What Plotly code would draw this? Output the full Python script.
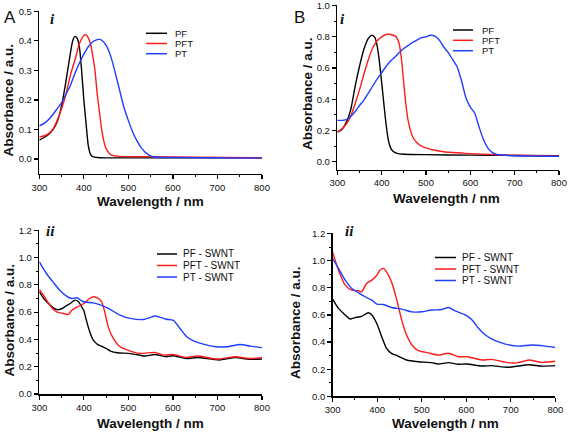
import plotly.graph_objects as go

W, H = 569, 433

# ---------------- DATA ----------------
a1_pf_wl = [300, 310, 320, 330, 340, 350, 360, 370, 375, 380, 385, 390, 395, 400, 405, 410, 415, 420, 430, 450, 500, 600, 700, 800]
a1_pf_ab = [0.064, 0.072, 0.082, 0.098, 0.125, 0.18, 0.265, 0.36, 0.40, 0.415, 0.408, 0.38, 0.30, 0.20, 0.12, 0.045, 0.016, 0.008, 0.005, 0.004, 0.004, 0.004, 0.004, 0.004]
a1_pft_wl = [300, 310, 320, 330, 340, 350, 360, 370, 380, 390, 400, 405, 410, 415, 420, 425, 430, 435, 440, 445, 450, 460, 480, 550, 650, 800]
a1_pft_ab = [0.075, 0.078, 0.085, 0.10, 0.13, 0.17, 0.22, 0.285, 0.335, 0.39, 0.418, 0.421, 0.41, 0.39, 0.35, 0.30, 0.22, 0.16, 0.10, 0.06, 0.035, 0.015, 0.009, 0.008, 0.006, 0.004]
a1_pt_wl = [300, 310, 320, 330, 340, 350, 360, 370, 380, 390, 400, 410, 420, 430, 435, 440, 450, 460, 470, 480, 490, 500, 510, 520, 530, 540, 550, 560, 600, 800]
a1_pt_ab = [0.112, 0.12, 0.132, 0.15, 0.17, 0.19, 0.22, 0.25, 0.29, 0.325, 0.355, 0.38, 0.397, 0.404, 0.405, 0.402, 0.385, 0.35, 0.295, 0.235, 0.175, 0.13, 0.09, 0.06, 0.036, 0.02, 0.011, 0.007, 0.005, 0.003]

b1_pf_wl = [300, 310, 320, 330, 340, 350, 360, 370, 378, 385, 390, 395, 400, 405, 410, 415, 420, 425, 435, 450, 500, 600, 700, 800]
b1_pf_ab = [0.19, 0.205, 0.25, 0.33, 0.48, 0.61, 0.72, 0.79, 0.81, 0.795, 0.74, 0.64, 0.51, 0.37, 0.24, 0.14, 0.09, 0.068, 0.053, 0.048, 0.045, 0.042, 0.04, 0.038]
b1_pft_wl = [300, 310, 320, 330, 340, 350, 360, 370, 380, 390, 400, 410, 415, 420, 430, 435, 440, 445, 450, 455, 460, 470, 480, 490, 500, 520, 540, 580, 600, 650, 700, 750, 800]
b1_pft_ab = [0.19, 0.21, 0.24, 0.29, 0.37, 0.46, 0.56, 0.655, 0.73, 0.775, 0.80, 0.815, 0.817, 0.815, 0.806, 0.79, 0.75, 0.65, 0.50, 0.36, 0.26, 0.16, 0.12, 0.10, 0.088, 0.073, 0.064, 0.056, 0.052, 0.046, 0.041, 0.038, 0.035]
b1_pt_wl = [300, 310, 320, 330, 340, 350, 360, 370, 380, 390, 400, 410, 420, 430, 440, 450, 460, 470, 480, 490, 500, 510, 520, 530, 540, 550, 560, 570, 580, 590, 600, 610, 620, 630, 640, 650, 660, 680, 700, 800]
b1_pt_ab = [0.265, 0.265, 0.27, 0.29, 0.32, 0.36, 0.395, 0.44, 0.485, 0.53, 0.57, 0.61, 0.645, 0.67, 0.70, 0.725, 0.745, 0.765, 0.78, 0.795, 0.80, 0.81, 0.805, 0.78, 0.735, 0.70, 0.655, 0.61, 0.52, 0.41, 0.35, 0.31, 0.22, 0.14, 0.085, 0.058, 0.046, 0.041, 0.038, 0.035]

a2_pf_wl = [300, 310, 320, 330, 340, 350, 360, 370, 380, 388, 395, 400, 405, 410, 415, 420, 430, 440, 450, 460, 475, 500, 525, 537, 560, 585, 600, 630, 655, 690, 705, 740, 770, 800]
a2_pf_ab = [0.75, 0.70, 0.665, 0.635, 0.618, 0.625, 0.645, 0.665, 0.688, 0.676, 0.64, 0.61, 0.55, 0.49, 0.44, 0.40, 0.365, 0.35, 0.335, 0.315, 0.302, 0.298, 0.285, 0.278, 0.29, 0.273, 0.28, 0.26, 0.268, 0.254, 0.249, 0.268, 0.254, 0.256]
a2_pft_wl = [300, 310, 320, 330, 340, 350, 360, 365, 372, 380, 390, 400, 410, 420, 430, 440, 447, 455, 466, 480, 500, 525, 560, 580, 600, 630, 655, 700, 740, 770, 800]
a2_pft_ab = [0.766, 0.72, 0.67, 0.625, 0.60, 0.593, 0.585, 0.583, 0.61, 0.63, 0.645, 0.663, 0.693, 0.712, 0.705, 0.676, 0.60, 0.49, 0.407, 0.35, 0.32, 0.298, 0.305, 0.285, 0.29, 0.268, 0.278, 0.256, 0.273, 0.26, 0.266]
a2_pt_wl = [300, 316, 331, 346, 361, 373, 384, 399, 421, 444, 459, 481, 504, 534, 548, 560, 572, 585, 601, 616, 631, 646, 668, 698, 721, 751, 773, 800]
a2_pt_ab = [0.968, 0.883, 0.82, 0.76, 0.717, 0.70, 0.705, 0.676, 0.668, 0.644, 0.62, 0.578, 0.554, 0.546, 0.56, 0.572, 0.562, 0.548, 0.54, 0.48, 0.42, 0.39, 0.366, 0.346, 0.346, 0.363, 0.351, 0.34]

b2_pf_wl = [300, 313, 328, 339, 350, 365, 380, 388, 399, 410, 421, 432, 447, 466, 492, 522, 537, 560, 582, 601, 635, 657, 694, 740, 769, 800]
b2_pf_ab = [0.717, 0.648, 0.60, 0.57, 0.58, 0.59, 0.616, 0.60, 0.537, 0.44, 0.353, 0.317, 0.297, 0.268, 0.255, 0.248, 0.238, 0.248, 0.236, 0.238, 0.223, 0.226, 0.214, 0.233, 0.223, 0.226]
b2_pft_wl = [300, 313, 328, 343, 358, 365, 376, 388, 399, 406, 414, 421, 432, 444, 455, 466, 478, 492, 515, 537, 560, 582, 603, 635, 657, 694, 717, 740, 769, 800]
b2_pft_ab = [1.06, 0.93, 0.82, 0.783, 0.778, 0.77, 0.832, 0.857, 0.893, 0.93, 0.943, 0.918, 0.844, 0.709, 0.562, 0.452, 0.378, 0.336, 0.32, 0.304, 0.317, 0.292, 0.292, 0.268, 0.272, 0.248, 0.248, 0.268, 0.25, 0.258]
b2_pt_wl = [300, 313, 328, 343, 358, 373, 388, 399, 414, 432, 455, 478, 500, 522, 545, 560, 575, 598, 613, 628, 643, 665, 688, 717, 747, 777, 800]
b2_pt_ab = [1.016, 0.943, 0.857, 0.795, 0.763, 0.734, 0.709, 0.68, 0.677, 0.655, 0.643, 0.623, 0.623, 0.636, 0.64, 0.655, 0.63, 0.60, 0.562, 0.50, 0.452, 0.41, 0.385, 0.37, 0.378, 0.37, 0.36]

top_names = ["PF", "PFT", "PT"]
bottom_names = ["PF - SWNT", "PFT - SWNT", "PT - SWNT"]
x_ticks = [300, 400, 500, 600, 700, 800]
y_ticks_a1 = [0.0, 0.1, 0.2, 0.3, 0.4, 0.5]
y_ticks_b1 = [0.0, 0.2, 0.4, 0.6, 0.8, 1.0]
y_ticks_2 = [0.0, 0.2, 0.4, 0.6, 0.8, 1.0, 1.2]
colors = ["#000000", "#ff1a1a", "#1f3dff"]

def px(x):
    return x / W

def py(y):
    return 1 - y / H

fig = go.Figure()

panels = [
    ("x", "y", [(a1_pf_wl, a1_pf_ab), (a1_pft_wl, a1_pft_ab), (a1_pt_wl, a1_pt_ab)], top_names),
    ("x2", "y2", [(b1_pf_wl, b1_pf_ab), (b1_pft_wl, b1_pft_ab), (b1_pt_wl, b1_pt_ab)], top_names),
    ("x3", "y3", [(a2_pf_wl, a2_pf_ab), (a2_pft_wl, a2_pft_ab), (a2_pt_wl, a2_pt_ab)], bottom_names),
    ("x4", "y4", [(b2_pf_wl, b2_pf_ab), (b2_pft_wl, b2_pft_ab), (b2_pt_wl, b2_pt_ab)], bottom_names),
]
for xa, ya, series, names in panels:
    for (wl, ab), name, c in zip(series, names, colors):
        fig.add_trace(go.Scatter(x=wl, y=ab, mode="lines", name=name, xaxis=xa, yaxis=ya,
                                 line=dict(color=c, width=1.4, shape="spline", smoothing=0.6),
                                 showlegend=False, hoverinfo="skip"))

tickfont = dict(family="Liberation Sans, Arial, sans-serif", size=9.5, color="#111")

def xax(domain, anchor):
    return dict(domain=domain, anchor=anchor, range=[300, 800], tickvals=x_ticks,
                ticks="outside", ticklen=4, tickwidth=1.2, tickcolor="#000",
                showline=True, linewidth=1.5, linecolor="#000", showgrid=False, zeroline=False,
                tickfont=tickfont, ticklabeloverflow="allow", fixedrange=True,
                minor=dict(dtick=50, tick0=300, ticks="outside", ticklen=2, tickwidth=1, tickcolor="#000"))

def yax(domain, anchor, rng, vals, minor):
    d = dict(domain=domain, anchor=anchor, range=rng, tickmode="array", tickvals=vals,
             ticktext=["%.1f" % v for v in vals],
             ticks="outside", ticklen=4, tickwidth=1.2, tickcolor="#000",
             showline=True, linewidth=1.5, linecolor="#000", showgrid=False, zeroline=False,
             tickfont=tickfont, ticklabeloverflow="allow", fixedrange=True)
    if minor:
        d["minor"] = dict(dtick=minor, tick0=0, ticks="outside", ticklen=2, tickwidth=1, tickcolor="#000")
    return d

fig.update_layout(
    width=W, height=H, margin=dict(l=0, r=0, t=0, b=0, autoexpand=False), autosize=False,
    paper_bgcolor="white", plot_bgcolor="rgba(0,0,0,0)", showlegend=False, hovermode=False,
    xaxis=xax([px(39.3), px(262)], "y"),
    yaxis=yax([py(173.8), py(10.7)], "x", [-0.05, 0.502], y_ticks_a1, None),
    xaxis2=xax([px(337.3), px(559)], "y2"),
    yaxis2=yax([py(169.5), py(5.3)], "x2", [-0.05, 1.002], y_ticks_b1, 0.1),
    xaxis3=xax([px(39.3), px(262)], "y3"),
    yaxis3=yax([py(394), py(230)], "x3", [0, 1.202], y_ticks_2, 0.1),
    xaxis4=xax([px(332.7), px(555.3)], "y4"),
    yaxis4=yax([py(396.3), py(233.3)], "x4", [0, 1.202], y_ticks_2, 0.1),
)

ann = []
shapes = []
bold = dict(family="Liberation Sans, Arial, sans-serif", size=13.5, color="#111")

def text(x, y, s, font, xanchor="center", yanchor="middle", angle=0):
    ann.append(dict(x=px(x), y=py(y), xref="paper", yref="paper", text=s, showarrow=False,
                    font=font, xanchor=xanchor, yanchor=yanchor, textangle=angle))

for cx, cy in [(150.8, 201), (446.7, 198), (151, 423), (445, 423)]:
    text(cx, cy, "<b>Wavelength / nm</b>", bold)
for cx, cy in [(8.5, 100), (307, 94), (8.5, 320), (295, 323)]:
    text(cx, cy, "<b>Absorbance / a.u.</b>", bold, angle=-90)

letter = dict(family="Liberation Sans, Arial, sans-serif", size=17, color="#111")
text(10, 17.5, "A", letter)
text(299, 17.5, "B", letter)
roman = dict(family="Liberation Serif, Times New Roman, serif", size=15, color="#111")
text(52.5, 18.5, "<b><i>i</i></b>", roman)
text(342.5, 18.5, "<b><i>i</i></b>", roman)
text(50.5, 230.5, "<b><i>ii</i></b>", roman)
text(349, 230.5, "<b><i>ii</i></b>", roman)

legfont_top = dict(family="Liberation Sans, Arial, sans-serif", size=9.5, color="#111")
legfont_bot = dict(family="Liberation Sans, Arial, sans-serif", size=10, color="#111")
legends = [
    (146, 167, 173, [33.3, 43.5, 53.7], top_names, legfont_top),
    (453, 473, 480, [30, 40.3, 50.7], top_names, legfont_top),
    (157, 177, 181, [254, 265.5, 277], bottom_names, legfont_bot),
    (435, 456, 460, [257.5, 269, 280.5], bottom_names, legfont_bot),
]
for x0, x1, tx, rows, names, f in legends:
    for yy, name, c in zip(rows, names, colors):
        shapes.append(dict(type="line", xref="paper", yref="paper", x0=px(x0), x1=px(x1), y0=py(yy), y1=py(yy),
                           line=dict(color=c, width=1.5)))
        text(tx, yy, name, f, xanchor="left")

fig.update_layout(annotations=ann, shapes=shapes)

# Make the page exactly the figure size: remove the default body margin as early as possible
fig.write_html("out.html", config={"displayModeBar": False, "staticPlot": True},
               post_script="document.documentElement.style.margin='0';document.body.style.margin='0';"
                           "document.body.style.padding='0';document.body.style.overflow='hidden';")
